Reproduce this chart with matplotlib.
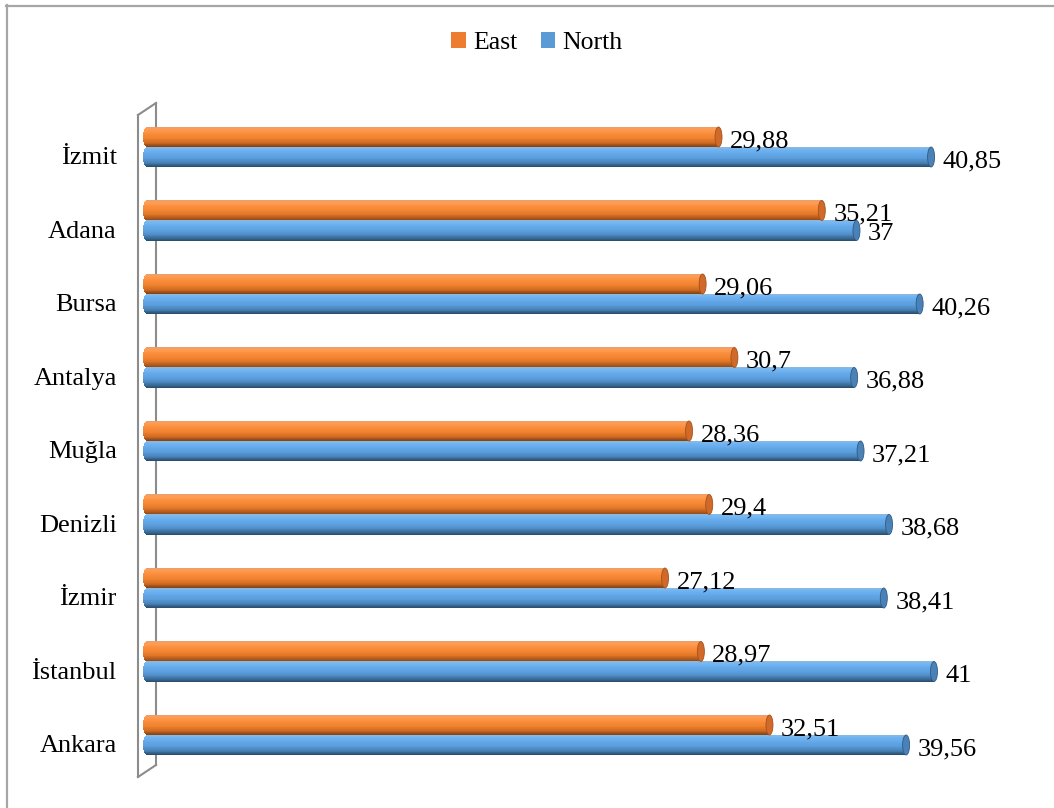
import numpy as np
import matplotlib
matplotlib.use("Agg")
import matplotlib.pyplot as plt
from matplotlib.patches import Ellipse, Patch
from matplotlib.lines import Line2D
from matplotlib.colors import to_rgb

plt.rcParams['font.family'] = ['Liberation Serif', 'DejaVu Serif']

cities = ["İzmit", "Adana", "Bursa", "Antalya", "Muğla", "Denizli", "İzmir", "İstanbul", "Ankara"]
east = [29.88, 35.21, 29.06, 30.7, 28.36, 29.4, 27.12, 28.97, 32.51]
north = [40.85, 37, 40.26, 36.88, 37.21, 38.68, 38.41, 41, 39.56]
east_labels = ["29,88", "35,21", "29,06", "30,7", "28,36", "29,4", "27,12", "28,97", "32,51"]
north_labels = ["40,85", "37", "40,26", "36,88", "37,21", "38,68", "38,41", "41", "39,56"]

W, H = 1054, 808
fig = plt.figure(figsize=(W / 100, H / 100), dpi=100)
fig.patch.set_facecolor('white')

def fx(px):
    return px / W

def fy(py):
    return 1 - py / H

ax_left, ax_right, ax_top, ax_bot = 143, 1015, 100, 780
ax = fig.add_axes([fx(ax_left), fy(ax_bot), (ax_right - ax_left) / W, (ax_bot - ax_top) / H])
ax.patch.set_visible(False)
xmax = 45.0
ax.set_xlim(0, xmax)
spacing = 73.5
ax.set_ylim((ax_bot - 157) / spacing, (ax_top - 157) / spacing)
for s in ax.spines.values():
    s.set_visible(False)
ax.set_xticks([])

pos = np.arange(len(cities), dtype=float)
h = 20 / spacing            # bar thickness in data units
a = 3.5 / ((ax_right - ax_left) / xmax)  # cap half-width in data units

orange_stops = {
    't': [-1.0, -0.75, -0.4, 0.1, 0.5, 0.8, 1.0],
    'c': ['#E9A070', '#FF9C50', '#FB8F3E', '#F0822F', '#D66F24', '#A9551A', '#7E4012'],
    'cap': '#D0692A', 'capedge': '#A45318',
}
blue_stops = {
    't': [-1.0, -0.75, -0.4, 0.1, 0.5, 0.8, 1.0],
    'c': ['#8DB8E0', '#72B5F2', '#65AAEB', '#5A9DDC', '#4C87BE', '#37668F', '#27496A'],
    'cap': '#4A82B8', 'capedge': '#2F5B85',
}

def shade(stops, t):
    ts = stops['t']
    cs = np.array([to_rgb(c) for c in stops['c']])
    return tuple(np.interp(t, ts, cs[:, i]) for i in range(3))

def cylinders(values, centers, stops, n=24):
    values = np.asarray(values, dtype=float)
    for k in range(n):
        t = -1 + (2 * k + 1) / n
        left = a * (1 - np.sqrt(max(0.0, 1 - t * t)))
        ax.barh(centers + t * h / 2, (values - a) - left, left=left,
                height=h / n * 1.05, color=shade(stops, t), linewidth=0, zorder=2)
    for v, c in zip(values, centers):
        ax.add_patch(Ellipse((v - a, c), 2 * a, h, facecolor=stops['cap'],
                             edgecolor=stops['capedge'], linewidth=0.6, zorder=3))

east_c = pos - h
north_c = pos
cylinders(east, east_c, orange_stops)
cylinders(north, north_c, blue_stops)

px_per_unit = (ax_right - ax_left) / xmax
dx = 8 / px_per_unit
dy = 4 / spacing
fs = 19
for v, c, lab in zip(east, east_c, east_labels):
    ax.text(v + dx, c + dy, lab, fontsize=fs, va='center', ha='left', zorder=5)
for v, c, lab in zip(north, north_c, north_labels):
    ax.text(v + dx, c + dy, lab, fontsize=fs, va='center', ha='left', zorder=5)

ax.set_yticks(pos - 0.02)
ax.set_yticklabels(cities, fontsize=fs)
ax.tick_params(axis='y', length=0, pad=19)

# 3D wall (left)
wall = '#8C8C8C'
for (x1, y1), (x2, y2) in [((138, 115), (138, 777)), ((138, 115), (156, 103)),
                           ((156, 103), (156, 765)), ((138, 777), (156, 765))]:
    fig.add_artist(Line2D([fx(x1), fx(x2)], [fy(y1), fy(y2)], color=wall, lw=1.5,
                          transform=fig.transFigure, zorder=-1))

# chart border (top and left visible)
fig.add_artist(Line2D([fx(6), fx(W)], [fy(5.5), fy(5.5)], color='#A6A6A6', lw=1.6,
                      transform=fig.transFigure, zorder=-1))
fig.add_artist(Line2D([fx(6.5), fx(6.5)], [fy(5), fy(H)], color='#A6A6A6', lw=1.6,
                      transform=fig.transFigure, zorder=-1))

handles = [Patch(facecolor='#ED7D31', edgecolor='none', label='East'),
           Patch(facecolor='#5B9BD5', edgecolor='none', label='North')]
fig.legend(handles=handles, loc='center', bbox_to_anchor=(fx(537), fy(43)), ncol=2,
           frameon=False, fontsize=18.5, handlelength=0.55, handleheight=0.55,
           handletextpad=0.3, columnspacing=0.9, borderpad=0)

fig.savefig('out.png', dpi=100, facecolor='white')
